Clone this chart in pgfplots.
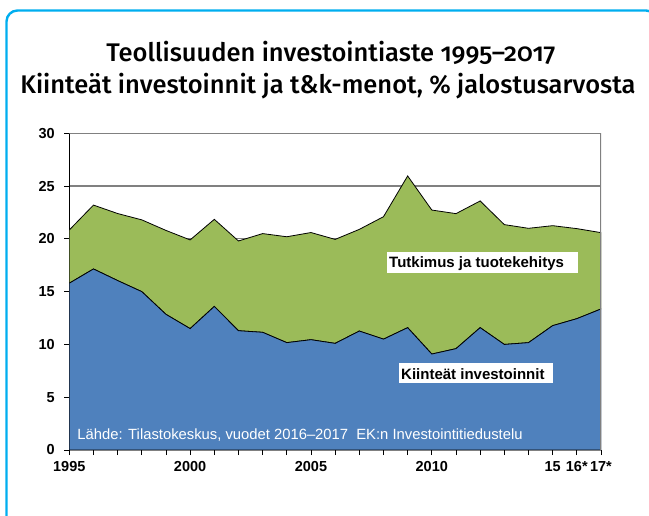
\documentclass[border=0pt]{standalone}
\usepackage{fontspec}
\setmainfont{Liberation Sans}
\newfontfamily\titlefont{Fira Sans Medium}[Numbers=OldStyle]
\usepackage{pgfplots}
\pgfplotsset{compat=1.18}
\definecolor{frameblue}{RGB}{0,174,239}
\definecolor{areablue}{RGB}{79,129,189}
\definecolor{areagreen}{RGB}{155,187,89}
\definecolor{gridgray}{RGB}{128,128,128}

\pgfplotstableread{
year invest
1995 15.80
1996 17.15
1997 16.05
1998 15.00
1999 12.85
2000 11.50
2001 13.60
2002 11.30
2003 11.15
2004 10.17
2005 10.45
2006 10.10
2007 11.27
2008 10.50
2009 11.59
2010 9.09
2011 9.60
2012 11.59
2013 10.00
2014 10.17
2015 11.78
2016 12.44
2017 13.36
}\investtable

\pgfplotstableread{
year rnd
1995 5.04
1996 6.05
1997 6.35
1998 6.80
1999 7.95
2000 8.40
2001 8.25
2002 8.50
2003 9.35
2004 10.03
2005 10.15
2006 9.85
2007 9.63
2008 11.60
2009 14.37
2010 13.64
2011 12.79
2012 12.00
2013 11.35
2014 10.83
2015 9.47
2016 8.53
2017 7.23
}\rndtable

\begin{document}
\begin{tikzpicture}[x=1pt,y=1pt]
\path[use as bounding box] (0,0) rectangle (649,515);
\draw[frameblue, line width=2.4pt, rounded corners=11pt] (6.5,-40) rectangle (657,504.5);
\node[anchor=base, inner sep=0, font=\titlefont\fontsize{25.5}{28}\selectfont] at (331,453.5) {Teollisuuden investointiaste 1995–2017};
\node[anchor=base, inner sep=0, font=\titlefont\fontsize{25.5}{28}\selectfont] at (328,421.7) {Kiinteät investoinnit ja t\&k-menot, \% jalostusarvosta};
\begin{axis}[
  at={(69.3pt,65pt)}, anchor=south west,
  scale only axis, width=531.7pt, height=316.7pt,
  xmin=1995, xmax=2017, ymin=0, ymax=30,
  stack plots=y,
  axis x line*=bottom, axis y line*=left,
  axis line style={black, line width=1pt},
  tick align=outside, major tick length=5pt,
  tick style={black, line width=0.8pt},
  xtick={1995,...,2017},
  xticklabels={1995,,,,,2000,,,,,2005,,,,,2010,,,,,15,16*,17*},
  ytick={0,5,...,30},
  ymajorgrids,
  grid style={gridgray, line width=1.2pt},
  /pgf/number format/assume math mode=true,
  ticklabel style={font=\bfseries\fontsize{14.5}{15}\selectfont},
  yticklabel style={xshift=-6pt},
  xticklabel style={yshift=-3pt},
]
\draw[gridgray, line width=1.2pt] (axis cs:1995,30) -- (axis cs:2017,30) -- (axis cs:2017,0);
\addplot[draw=black, line width=0.8pt, fill=areablue] table[x=year, y=invest] {\investtable} \closedcycle;
\addplot[draw=black, line width=0.8pt, fill=areagreen] table[x=year, y=rnd] {\rndtable} \closedcycle;
\end{axis}
\fill[white] (386.7,242.3) rectangle (577.7,262.7);
\node[anchor=base west, inner sep=0, font=\bfseries\fontsize{15}{15}\selectfont] at (389,247.3) {Tutkimus ja tuotekehitys};
\fill[white] (399,131.7) rectangle (553,152.3);
\node[anchor=base west, inner sep=0, font=\bfseries\fontsize{15}{15}\selectfont] at (401,135.7) {Kiinteät investoinnit};
\node[anchor=base west, inner sep=0, text=white, font=\fontsize{14.8}{15}\selectfont] at (77.3,75) {Lähde: Tilastokeskus, vuodet 2016–2017~~EK:n Investointitiedustelu};
\end{tikzpicture}
\end{document}
